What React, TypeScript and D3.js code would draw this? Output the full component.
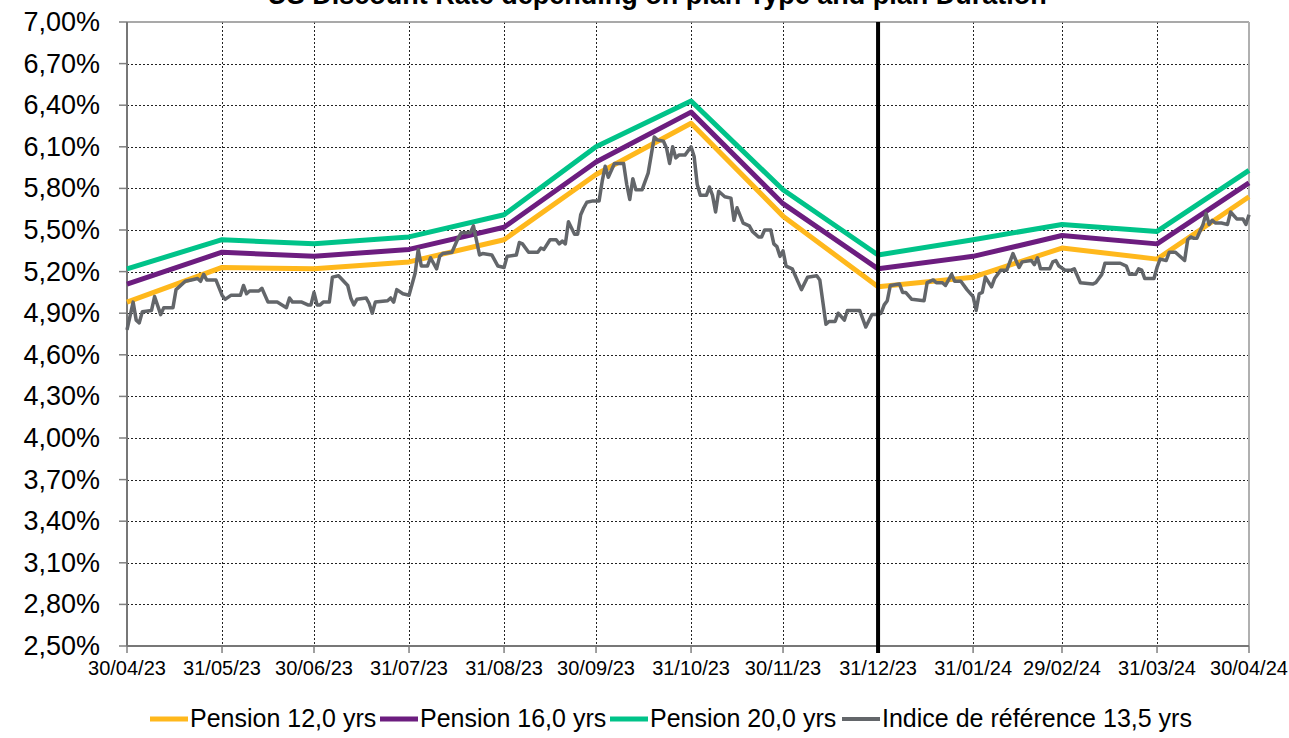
import React, { useMemo } from 'react'
import * as d3 from 'd3'

const title = 'US Discount Rate depending on plan Type and plan Duration'

const monthEnds = ['2023-04-30', '2023-05-31', '2023-06-30', '2023-07-31', '2023-08-31', '2023-09-30', '2023-10-31', '2023-11-30', '2023-12-31', '2024-01-31', '2024-02-29', '2024-03-31', '2024-04-30']
const pension12 = [4.98, 5.23, 5.22, 5.27, 5.43, 5.90, 6.27, 5.60, 5.09, 5.16, 5.37, 5.29, 5.74]
const pension16 = [5.11, 5.34, 5.31, 5.36, 5.52, 5.99, 6.35, 5.69, 5.22, 5.31, 5.46, 5.40, 5.84]
const pension20 = [5.22, 5.43, 5.40, 5.45, 5.61, 6.10, 6.43, 5.79, 5.32, 5.43, 5.54, 5.49, 5.93]

const refDates = [
  '2023-04-30', '2023-05-02', '2023-05-03', '2023-05-04', '2023-05-05', '2023-05-08', '2023-05-09', '2023-05-11', '2023-05-12', '2023-05-15',
  '2023-05-16', '2023-05-17', '2023-05-19', '2023-05-21', '2023-05-23', '2023-05-24', '2023-05-25', '2023-05-26', '2023-05-29', '2023-05-31',
  '2023-06-01', '2023-06-03', '2023-06-06', '2023-06-07', '2023-06-08', '2023-06-09', '2023-06-12', '2023-06-13', '2023-06-15', '2023-06-18',
  '2023-06-21', '2023-06-22', '2023-06-23', '2023-06-26', '2023-06-28', '2023-06-29', '2023-06-30', '2023-07-01', '2023-07-02', '2023-07-03',
  '2023-07-05', '2023-07-06', '2023-07-08', '2023-07-11', '2023-07-12', '2023-07-13', '2023-07-14', '2023-07-17', '2023-07-18', '2023-07-19',
  '2023-07-20', '2023-07-24', '2023-07-25', '2023-07-26', '2023-07-27', '2023-07-29', '2023-07-31', '2023-08-02', '2023-08-03', '2023-08-04',
  '2023-08-06', '2023-08-07', '2023-08-09', '2023-08-10', '2023-08-11', '2023-08-14', '2023-08-16', '2023-08-17', '2023-08-20', '2023-08-21',
  '2023-08-23', '2023-08-24', '2023-08-27', '2023-08-29', '2023-08-31', '2023-09-01', '2023-09-04', '2023-09-05', '2023-09-06', '2023-09-08',
  '2023-09-11', '2023-09-12', '2023-09-13', '2023-09-15', '2023-09-17', '2023-09-18', '2023-09-19', '2023-09-20', '2023-09-21', '2023-09-23',
  '2023-09-24', '2023-09-25', '2023-09-26', '2023-09-27', '2023-09-29', '2023-10-01', '2023-10-02', '2023-10-03', '2023-10-04', '2023-10-06',
  '2023-10-09', '2023-10-10', '2023-10-11', '2023-10-12', '2023-10-13', '2023-10-15', '2023-10-17', '2023-10-18', '2023-10-19', '2023-10-20',
  '2023-10-22', '2023-10-23', '2023-10-24', '2023-10-25', '2023-10-26', '2023-10-27', '2023-10-29', '2023-10-30', '2023-10-31', '2023-11-01',
  '2023-11-02', '2023-11-03', '2023-11-05', '2023-11-06', '2023-11-07', '2023-11-08', '2023-11-09', '2023-11-11', '2023-11-13', '2023-11-14',
  '2023-11-15', '2023-11-17', '2023-11-19', '2023-11-20', '2023-11-22', '2023-11-23', '2023-11-24', '2023-11-26', '2023-11-27', '2023-11-28',
  '2023-11-29', '2023-11-30', '2023-12-01', '2023-12-03', '2023-12-06', '2023-12-08', '2023-12-11', '2023-12-12', '2023-12-14', '2023-12-15',
  '2023-12-17', '2023-12-18', '2023-12-20', '2023-12-21', '2023-12-25', '2023-12-27', '2023-12-29', '2023-12-31', '2024-01-01', '2024-01-02',
  '2024-01-03', '2024-01-04', '2024-01-07', '2024-01-08', '2024-01-09', '2024-01-11', '2024-01-15', '2024-01-16', '2024-01-18', '2024-01-19',
  '2024-01-21', '2024-01-22', '2024-01-24', '2024-01-25', '2024-01-27', '2024-01-29', '2024-01-31', '2024-02-01', '2024-02-02', '2024-02-03',
  '2024-02-04', '2024-02-06', '2024-02-07', '2024-02-09', '2024-02-11', '2024-02-13', '2024-02-15', '2024-02-16', '2024-02-19', '2024-02-20',
  '2024-02-21', '2024-02-22', '2024-02-25', '2024-02-26', '2024-02-27', '2024-02-28', '2024-03-01', '2024-03-03', '2024-03-04', '2024-03-06',
  '2024-03-10', '2024-03-11', '2024-03-13', '2024-03-14', '2024-03-19', '2024-03-21', '2024-03-22', '2024-03-24', '2024-03-25', '2024-03-26',
  '2024-03-27', '2024-03-30', '2024-03-31', '2024-04-01', '2024-04-03', '2024-04-04', '2024-04-06', '2024-04-07', '2024-04-09', '2024-04-10',
  '2024-04-11', '2024-04-12', '2024-04-13', '2024-04-15', '2024-04-16', '2024-04-17', '2024-04-18', '2024-04-19', '2024-04-21', '2024-04-23',
  '2024-04-24', '2024-04-26', '2024-04-28', '2024-04-29', '2024-04-30'
]
const refValues = [
  4.78, 4.98, 4.85, 4.83, 4.91, 4.92, 5.02, 4.89, 4.94, 4.94,
  5.07, 5.09, 5.13, 5.14, 5.15, 5.13, 5.18, 5.14, 5.14, 5.03,
  5.00, 5.03, 5.03, 5.10, 5.04, 5.06, 5.06, 5.08, 4.98, 4.98,
  4.94, 5.01, 4.98, 4.98, 4.96, 4.96, 5.05, 4.96, 4.96, 4.98,
  4.98, 5.16, 5.17, 5.10, 5.01, 4.96, 5.00, 5.01, 4.97, 4.90,
  4.98, 4.99, 5.01, 4.98, 5.07, 5.04, 5.03, 5.19, 5.36, 5.24,
  5.24, 5.30, 5.22, 5.31, 5.33, 5.34, 5.44, 5.48, 5.48, 5.53,
  5.32, 5.33, 5.32, 5.24, 5.23, 5.31, 5.32, 5.41, 5.40, 5.34,
  5.34, 5.37, 5.36, 5.43, 5.43, 5.40, 5.42, 5.40, 5.56, 5.47,
  5.47, 5.61, 5.66, 5.70, 5.71, 5.71, 5.85, 5.96, 5.88, 5.98,
  5.98, 5.83, 5.72, 5.87, 5.79, 5.79, 5.91, 6.04, 6.17, 6.15,
  6.14, 6.09, 5.98, 6.10, 6.02, 6.04, 6.04, 6.07, 6.10, 6.03,
  5.83, 5.75, 5.75, 5.81, 5.75, 5.63, 5.78, 5.74, 5.73, 5.57,
  5.66, 5.55, 5.53, 5.49, 5.45, 5.45, 5.50, 5.50, 5.40, 5.38,
  5.31, 5.35, 5.24, 5.22, 5.07, 5.16, 5.17, 5.14, 4.82, 4.84,
  4.84, 4.90, 4.85, 4.92, 4.92, 4.80, 4.89, 4.89, 4.90, 4.96,
  4.99, 5.10, 5.11, 5.05, 5.05, 5.00, 4.99, 5.12, 5.14, 5.12,
  5.12, 5.10, 5.18, 5.13, 5.13, 5.07, 5.02, 4.92, 5.04, 5.05,
  5.16, 5.09, 5.15, 5.21, 5.21, 5.33, 5.23, 5.27, 5.28, 5.25,
  5.30, 5.22, 5.22, 5.27, 5.28, 5.24, 5.21, 5.21, 5.22, 5.12,
  5.11, 5.12, 5.18, 5.26, 5.26, 5.24, 5.18, 5.18, 5.22, 5.21,
  5.15, 5.15, 5.23, 5.29, 5.28, 5.34, 5.34, 5.32, 5.28, 5.43,
  5.45, 5.44, 5.44, 5.54, 5.62, 5.54, 5.57, 5.55, 5.55, 5.54,
  5.63, 5.58, 5.58, 5.54, 5.61
]

const yTickValues = [2.5, 2.8, 3.1, 3.4, 3.7, 4.0, 4.3, 4.6, 4.9, 5.2, 5.5, 5.8, 6.1, 6.4, 6.7, 7.0]
const yearEndMarker = '2023-12-31'

const seriesNames = ['Pension 12,0 yrs', 'Pension 16,0 yrs', 'Pension 20,0 yrs', 'Indice de référence 13,5 yrs']
const seriesColors = ['#FFB81C', '#6C1D7F', '#00C389', '#63666A']

const parseDate = d3.timeParse('%Y-%m-%d')
const frLocale = d3.formatLocale({ decimal: ',', thousands: ' ', grouping: [3], currency: ['', ' €'] })
const formatPct = (v: number) => frLocale.format('.2f')(v) + '%'
const formatDay = d3.timeFormat('%d/%m/%y')

const FONT = '"Liberation Sans", Arial, Helvetica, sans-serif'

// snap thin grid lines onto the pixel grid so the dots stay dark
const crisp = (v: number) => Math.round(v) + 0.5

export default function App() {
  const width = 1289
  const height = 738
  const plot = { left: 127, right: 1249, top: 22, bottom: 646 }

  const chart = useMemo(() => {
    const monthDates = monthEnds.map(d => parseDate(d) as Date)
    const x = d3.scaleTime().domain([monthDates[0], monthDates[monthDates.length - 1]]).range([plot.left, plot.right])
    const y = d3.scaleLinear().domain([2.5, 7.0]).range([plot.bottom, plot.top])
    const line = d3.line<[Date, number]>().x(p => x(p[0])).y(p => y(p[1])).curve(d3.curveLinear)

    const pensionPaths = [pension12, pension16, pension20].map(vals =>
      line(monthDates.map((d, i) => [d, vals[i]] as [Date, number])) || ''
    )
    const refPath = line(refDates.map((d, i) => [parseDate(d) as Date, refValues[i]] as [Date, number])) || ''

    return { x, y, monthDates, pensionPaths, refPath, markerX: x(parseDate(yearEndMarker) as Date) }
  }, [])

  const legendY = 727
  const legendStarts = [150, 380, 610, 842]

  return (
    <svg width={width} height={height} viewBox={`0 0 ${width} ${height}`} style={{ position: 'absolute', left: 0, top: 0, background: '#fff' }} fontFamily={FONT}>
      <text x={657} y={4} textAnchor="middle" fontSize={27} fontWeight="bold" fill="#000">{title}</text>

      {/* horizontal grid + y labels */}
      {yTickValues.map((t, i) => (
        <g key={`y_${i}`}>
          {i > 0 && i < yTickValues.length - 1 && (
            <line x1={plot.left} x2={plot.right} y1={crisp(chart.y(t))} y2={crisp(chart.y(t))} stroke="#222" strokeWidth={1} strokeDasharray="2,2" />
          )}
          <line x1={plot.left - 8} x2={plot.left} y1={chart.y(t)} y2={chart.y(t)} stroke="#808080" strokeWidth={1.5} />
          <text x={100} y={chart.y(t)} textAnchor="end" dominantBaseline="central" fontSize={27} fill="#000">{formatPct(t)}</text>
        </g>
      ))}

      {/* vertical grid + x labels */}
      {chart.monthDates.map((d, i) => (
        <g key={`x_${i}`}>
          {i > 0 && i < chart.monthDates.length - 1 && (
            <line x1={crisp(chart.x(d))} x2={crisp(chart.x(d))} y1={plot.top} y2={plot.bottom} stroke="#222" strokeWidth={1} strokeDasharray="2,2" />
          )}
          <line x1={chart.x(d)} x2={chart.x(d)} y1={plot.bottom} y2={plot.bottom + 7} stroke="#808080" strokeWidth={1.5} />
          <text x={chart.x(d)} y={675} textAnchor="middle" fontSize={20} fill="#000">{formatDay(d)}</text>
        </g>
      ))}

      {/* plot frame */}
      <line x1={plot.left} x2={plot.right} y1={plot.top} y2={plot.top} stroke="#8c8c8c" strokeWidth={1.5} />
      <line x1={plot.right} x2={plot.right} y1={plot.top} y2={plot.bottom} stroke="#b0b0b0" strokeWidth={2} />
      <line x1={plot.left} x2={plot.left} y1={plot.top} y2={plot.bottom} stroke="#777" strokeWidth={2} />
      <line x1={plot.left} x2={plot.right} y1={plot.bottom} y2={plot.bottom} stroke="#777" strokeWidth={2} />

      {chart.pensionPaths.map((p, i) => (
        <path key={`p_${i}`} d={p} fill="none" stroke={seriesColors[i]} strokeWidth={5} strokeLinejoin="round" />
      ))}
      <path d={chart.refPath} fill="none" stroke={seriesColors[3]} strokeWidth={3.5} strokeLinejoin="round" />

      <line x1={chart.markerX} x2={chart.markerX} y1={plot.top} y2={plot.bottom + 7} stroke="#000" strokeWidth={4} />

      {/* legend */}
      {seriesNames.map((name, i) => (
        <g key={`l_${i}`} transform={`translate(${legendStarts[i]},${legendY})`}>
          <line x1={0} x2={38} y1={-8} y2={-8} stroke={seriesColors[i]} strokeWidth={i === 3 ? 4 : 5} />
          <text x={40} y={0} fontSize={25} fill="#000">{name}</text>
        </g>
      ))}
    </svg>
  )
}
